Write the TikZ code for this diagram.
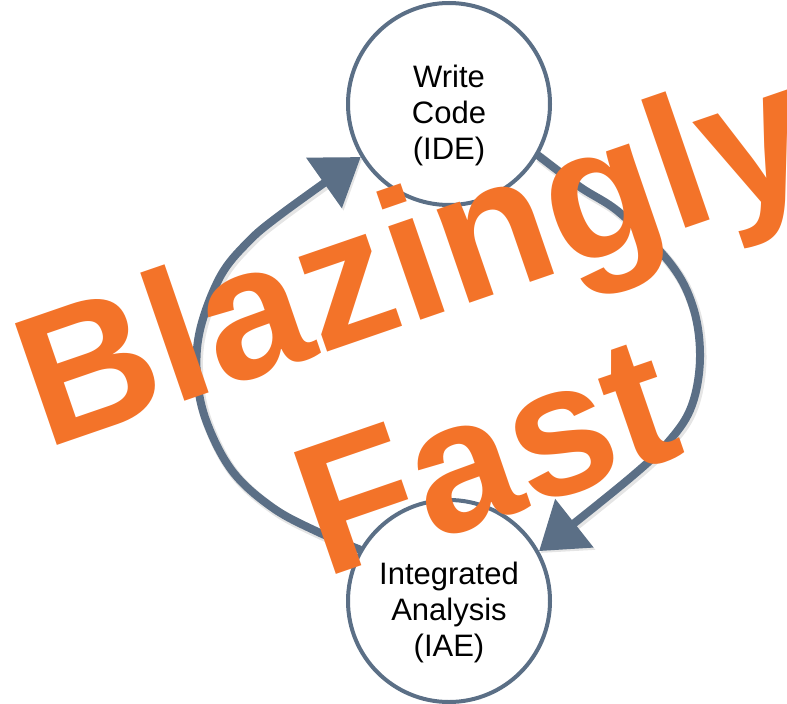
\documentclass[tikz,border=0pt]{standalone}
\usepackage{fontspec}
\setmainfont{Liberation Sans}
\newfontfamily\bigfont{Liberation Sans}[BoldFont={* Bold}]
\usetikzlibrary{arrows.meta,backgrounds}
\definecolor{slate}{HTML}{5B6F86}
\definecolor{fastorange}{HTML}{F37329}
\begin{document}
\begin{tikzpicture}[x=1pt,y=-1pt,
  stage/.style={circle, draw=slate, line width=4pt, fill=white, minimum size=202pt, inner sep=0pt},
  stagetext/.style={align=center, font=\fontsize{31}{36}\selectfont, inner sep=0pt},
  loopline/.style={draw=slate, line width=8pt, line cap=round,
    preaction={draw=black, opacity=0.1, line width=10pt, transform canvas={shift={(1.5pt,-2pt)}}},
    -{Triangle[length=45pt,width=60pt]}},
  blaze/.style={text=fastorange, font=\bigfont\bfseries\fontsize{187}{215}\selectfont, inner sep=0pt, rotate=19, anchor=base west}]
\useasboundingbox (0,0) rectangle (787,704);
\node[stage] (write) at (449,104) {};
\node[stage] (analysis) at (449,601) {};
\begin{pgfonlayer}{background}
\draw[loopline] plot[smooth, tension=0.6] coordinates {(analysis.150) (318,532) (273,508) (233,472) (207,423) (197,377) (200,330) (220,277) (247,243) (280,215) (write.211)};
\draw[loopline] plot[smooth, tension=0.6] coordinates {(write.330) (580,187) (620,213) (670,263) (693,307) (700,357) (692,405) (670,440) (630,478) (analysis.29)};
\end{pgfonlayer}
\node[stagetext] (writetext) at (449,115.5) {Write\\Code\\(IDE)};
\node[stagetext] (analysistext) at (449,612) {Integrated\\Analysis\\(IAE)};
\node[blaze] (blazingly) at (45,449.5) {Blazingly};
\node[blaze] (fast) at (324,578.5) {Fast};
\end{tikzpicture}
\end{document}
